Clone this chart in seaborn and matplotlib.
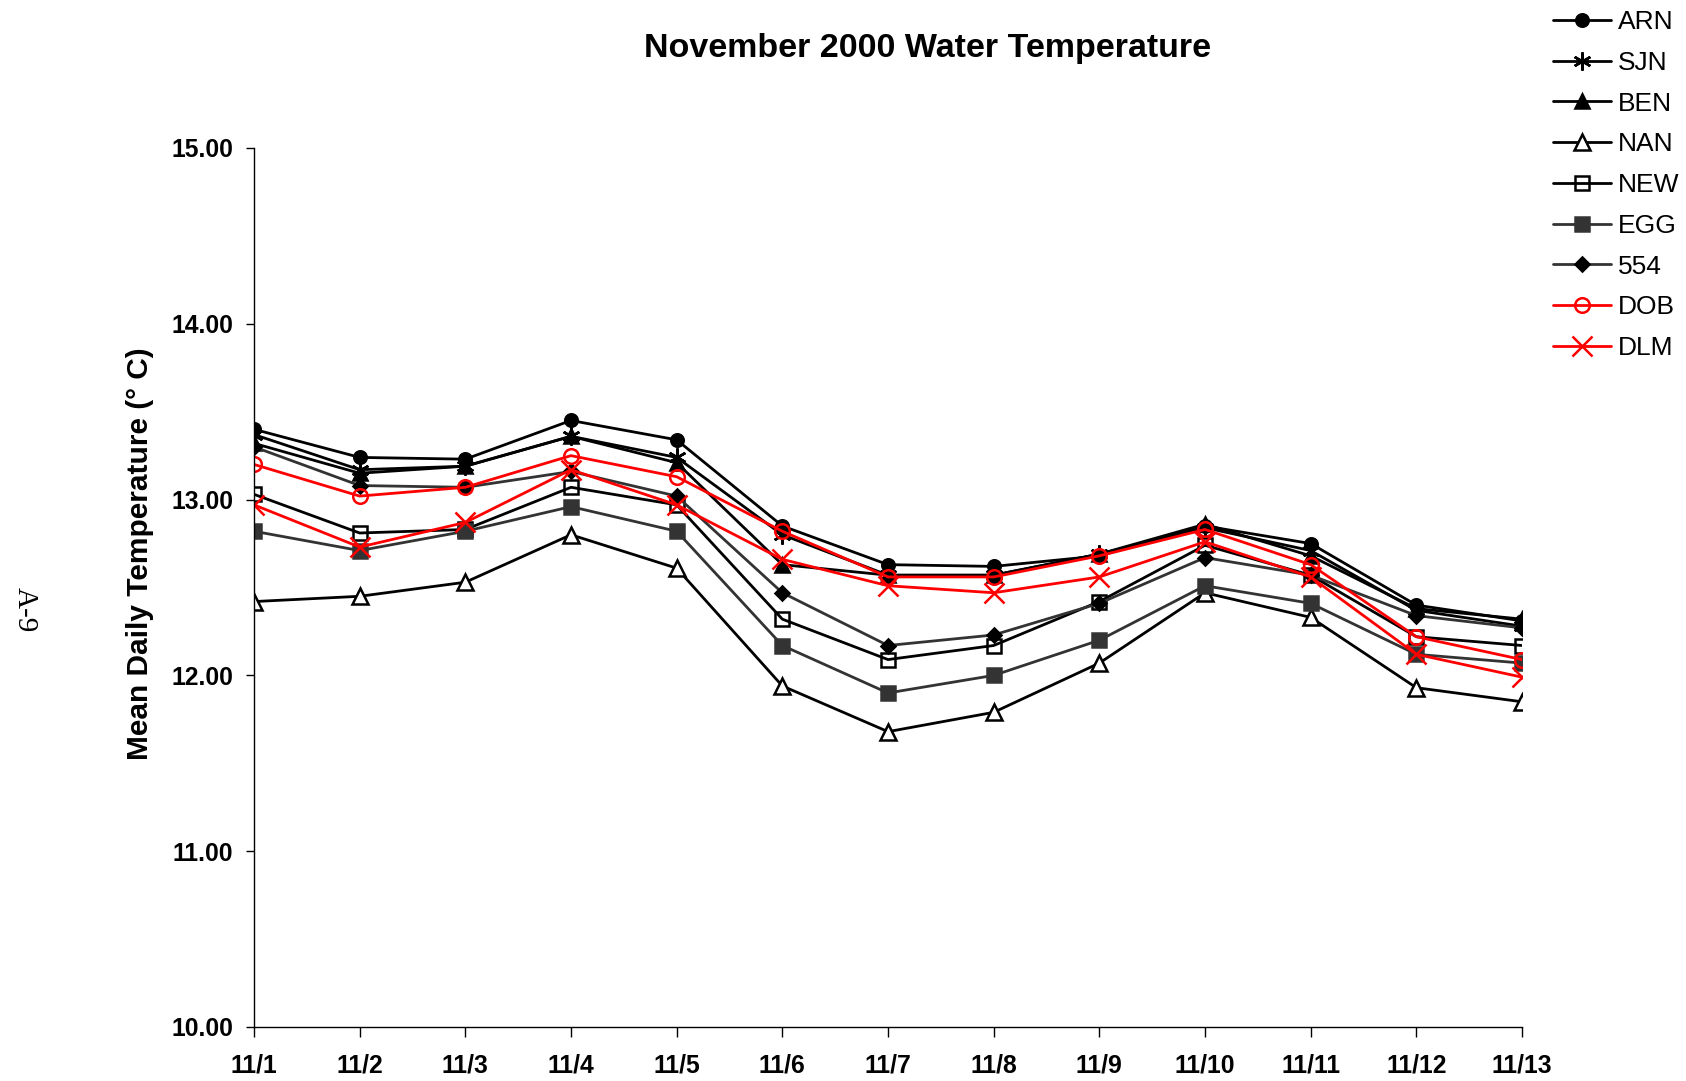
import numpy as np
import pandas as pd
import matplotlib
matplotlib.use("Agg")
import matplotlib.pyplot as plt
import seaborn as sns

days = ["11/1", "11/2", "11/3", "11/4", "11/5", "11/6", "11/7",
        "11/8", "11/9", "11/10", "11/11", "11/12", "11/13"]

arn = [13.40, 13.24, 13.23, 13.45, 13.34, 12.85, 12.63, 12.62, 12.68, 12.85, 12.75, 12.40, 12.31]
sjn = [13.37, 13.17, 13.19, 13.36, 13.24, 12.80, 12.57, 12.57, 12.69, 12.84, 12.71, 12.37, 12.28]
ben = [13.32, 13.15, 13.19, 13.36, 13.21, 12.63, 12.57, 12.57, 12.69, 12.86, 12.68, 12.38, 12.32]
nan_ = [12.42, 12.45, 12.53, 12.80, 12.61, 11.94, 11.68, 11.79, 12.07, 12.47, 12.33, 11.93, 11.85]
new = [13.03, 12.81, 12.83, 13.07, 12.97, 12.32, 12.09, 12.17, 12.42, 12.74, 12.57, 12.22, 12.17]
egg = [12.82, 12.71, 12.82, 12.96, 12.82, 12.17, 11.90, 12.00, 12.20, 12.51, 12.41, 12.12, 12.07]
s554 = [13.30, 13.08, 13.07, 13.16, 13.02, 12.47, 12.17, 12.23, 12.41, 12.67, 12.57, 12.34, 12.27]
dob = [13.20, 13.02, 13.07, 13.25, 13.13, 12.82, 12.56, 12.56, 12.68, 12.83, 12.63, 12.22, 12.09]
dlm = [12.97, 12.73, 12.87, 13.17, 12.97, 12.66, 12.51, 12.47, 12.56, 12.76, 12.56, 12.12, 11.99]

sites = ["ARN", "SJN", "BEN", "NAN", "NEW", "EGG", "554", "DOB", "DLM"]
values = [arn, sjn, ben, nan_, new, egg, s554, dob, dlm]

# line colour, marker, marker size, face colour, edge colour
styles = {
    "ARN": ("black", "o", 9, "black", "black"),
    "SJN": ("black", (6, 2, 0), 13, "black", "black"),
    "BEN": ("black", "^", 10.5, "black", "black"),
    "NAN": ("black", "^", 11, "white", "black"),
    "NEW": ("black", "s", 10, "none", "black"),
    "EGG": ("#333333", "s", 10, "#333333", "#333333"),
    "554": ("#333333", "D", 7.5, "black", "black"),
    "DOB": ("red", "o", 10.5, "none", "red"),
    "DLM": ("red", "x", 14, "red", "red"),
}

sns.set_style("ticks")
plt.rcParams["font.family"] = ["Liberation Sans", "DejaVu Sans"]
plt.rcParams["text.color"] = "black"
plt.rcParams["xtick.color"] = "black"
plt.rcParams["ytick.color"] = "black"

fig = plt.figure(figsize=(16.86, 10.81), dpi=100)
ax = fig.add_axes([254 / 1686, 1 - 1027 / 1081, 1268 / 1686, 879 / 1081])

x = np.arange(len(days))
for site, vals in zip(sites, values):
    col, mk, ms, mfc, mec = styles[site]
    sns.lineplot(x=x, y=vals, ax=ax, color=col, lw=2.0, marker=mk,
                 markersize=ms, markerfacecolor=mfc, markeredgecolor=mec,
                 markeredgewidth=1.8, label=site, legend=False)

ax.set_xlim(0, 12)
ax.set_ylim(10, 15)
ax.set_xticks(x)
ax.set_xticklabels(days)
ax.set_yticks([10, 11, 12, 13, 14, 15])
ax.set_yticklabels([f"{v:.2f}" for v in [10, 11, 12, 13, 14, 15]])
ax.tick_params(axis="both", colors="black", width=1, labelsize=17.8)
ax.tick_params(axis="y", length=6, pad=9)
ax.tick_params(axis="x", length=7, pad=12)
for lab in ax.get_xticklabels() + ax.get_yticklabels():
    lab.set_fontweight("bold")
sns.despine(ax=ax)
for sp in ["left", "bottom"]:
    ax.spines[sp].set_color("black")
    ax.spines[sp].set_linewidth(1)
ax.set_xlabel("")
ax.set_ylabel("")

fig.text(928 / 1686, 1 - 48 / 1081, "November 2000 Water Temperature",
         ha="center", va="center", fontsize=24.5, fontweight="bold")
fig.text(140 / 1686, 1 - 554 / 1081, "Mean Daily Temperature (° C)",
         ha="center", va="center", rotation=90, fontsize=21.5, fontweight="bold")
fig.text(25 / 1686, 1 - 610 / 1081, "A-9", ha="center", va="center",
         rotation=-90, fontsize=21, family="Liberation Serif")

handles, labels = ax.get_legend_handles_labels()
fig.legend(handles, labels, loc="upper left",
           bbox_to_anchor=(1553 / 1686, 1 - 10 / 1081), frameon=False,
           fontsize=19, handlelength=2.2, handletextpad=0.25,
           labelspacing=0.635, borderpad=0, borderaxespad=0)

fig.savefig("out.png", dpi=100, facecolor="white")
